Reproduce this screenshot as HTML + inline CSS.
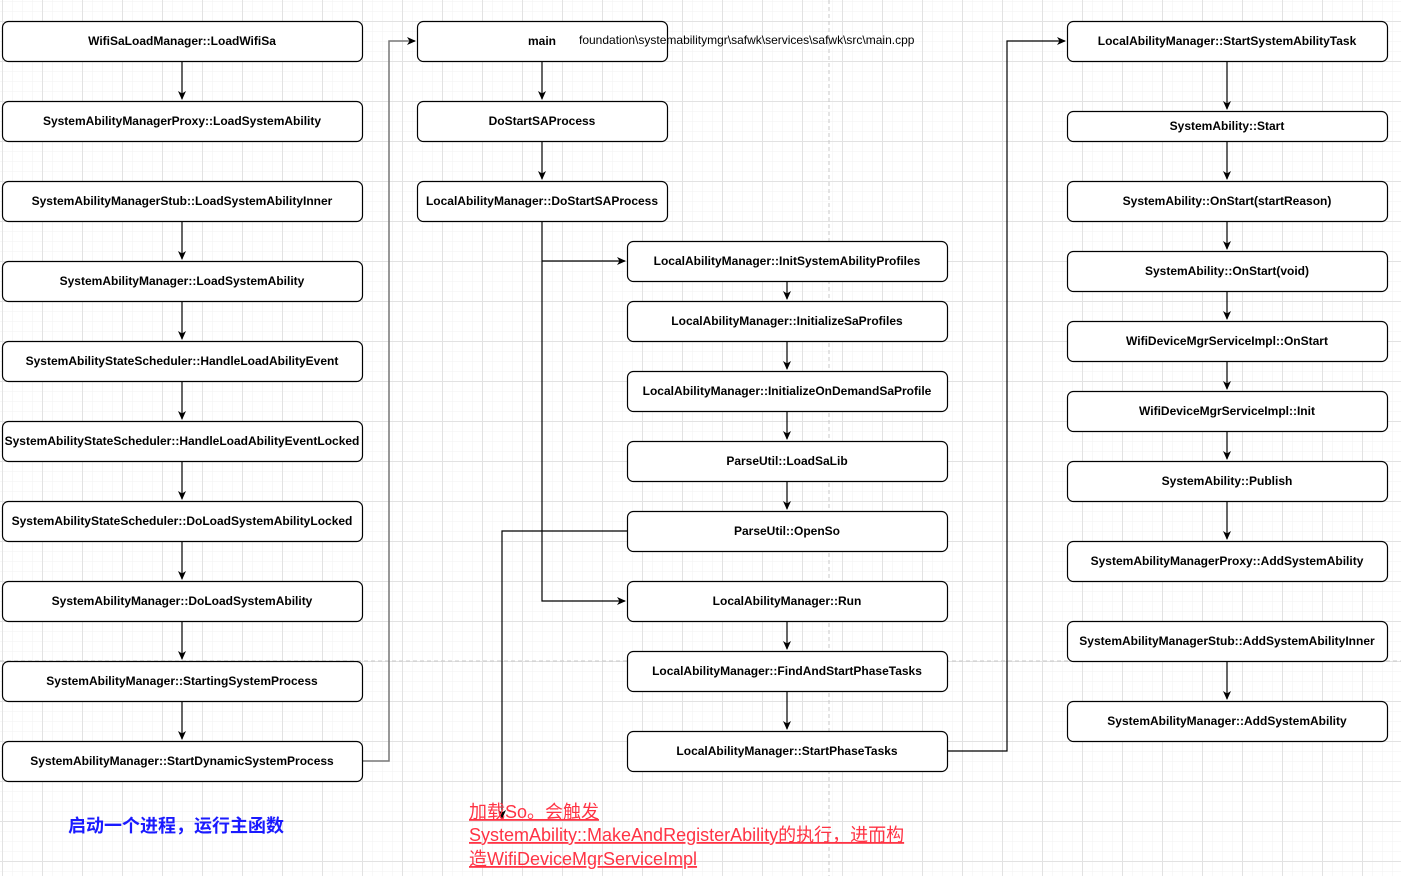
<!DOCTYPE html>
<html><head><meta charset="utf-8"><style>
html,body{margin:0;padding:0;background:#fff;}
svg{display:block;}
.b{fill:#fff;stroke:#000;stroke-width:1.2;}
.t{font-family:"Liberation Sans","Noto Sans CJK SC",sans-serif;font-size:12px;font-weight:bold;fill:#000;text-anchor:middle;dominant-baseline:central;}
.l{stroke:#000;stroke-width:1.2;fill:none;}
</style></head><body>
<svg width="1401" height="876" xmlns="http://www.w3.org/2000/svg">
<defs>
<pattern id="g1" width="10" height="10" patternUnits="userSpaceOnUse" x="2" y="1"><path d="M0 0H10M0 0V10" stroke="#f2f2f2" stroke-width="1" fill="none"/></pattern>
<pattern id="g2" width="40" height="40" patternUnits="userSpaceOnUse" x="2" y="21"><path d="M0 0.5H40M0.5 0V40" stroke="#e2e2e2" stroke-width="1" fill="none"/></pattern>
<marker id="a" markerWidth="10" markerHeight="10" refX="8" refY="4" orient="auto" markerUnits="userSpaceOnUse"><path d="M0 0L9 4L0 8L2.5 4Z" fill="#000"/></marker>
</defs>
<rect width="1401" height="876" fill="url(#g1)"/>
<rect width="1401" height="876" fill="url(#g2)"/>
<path d="M0 661H1401" stroke="#c8c8c8" stroke-dasharray="4 3"/>
<path d="M829 0V876" stroke="#c8c8c8" stroke-dasharray="4 3"/>

<!-- column 1 connectors -->
<path class="l" d="M182 61V99" marker-end="url(#a)"/>
<path class="l" d="M182 221V259" marker-end="url(#a)"/>
<path class="l" d="M182 301V339" marker-end="url(#a)"/>
<path class="l" d="M182 381V419" marker-end="url(#a)"/>
<path class="l" d="M182 461V499" marker-end="url(#a)"/>
<path class="l" d="M182 541V579" marker-end="url(#a)"/>
<path class="l" d="M182 621V659" marker-end="url(#a)"/>
<path class="l" d="M182 701V739" marker-end="url(#a)"/>
<path d="M362 761H389V41H415" stroke="#777" stroke-width="1.5" fill="none" marker-end="url(#a)"/>

<!-- column 2 -->
<path class="l" d="M542 61V99" marker-end="url(#a)"/>
<path class="l" d="M542 141V179" marker-end="url(#a)"/>
<path class="l" d="M542 221V601H625" marker-end="url(#a)"/>
<path class="l" d="M542 261H625" marker-end="url(#a)"/>

<!-- column 3 -->
<path class="l" d="M787 281V299" marker-end="url(#a)"/>
<path class="l" d="M787 341V369" marker-end="url(#a)"/>
<path class="l" d="M787 411V439" marker-end="url(#a)"/>
<path class="l" d="M787 481V509" marker-end="url(#a)"/>
<path class="l" d="M787 621V649" marker-end="url(#a)"/>
<path class="l" d="M787 691V729" marker-end="url(#a)"/>
<path class="l" d="M627 531H502V818" marker-end="url(#a)"/>
<path class="l" d="M947 751H1007V41H1065" marker-end="url(#a)"/>

<!-- column 4 -->
<path class="l" d="M1227 61V109" marker-end="url(#a)"/>
<path class="l" d="M1227 141V179" marker-end="url(#a)"/>
<path class="l" d="M1227 221V249" marker-end="url(#a)"/>
<path class="l" d="M1227 291V319" marker-end="url(#a)"/>
<path class="l" d="M1227 361V389" marker-end="url(#a)"/>
<path class="l" d="M1227 431V459" marker-end="url(#a)"/>
<path class="l" d="M1227 501V539" marker-end="url(#a)"/>
<path class="l" d="M1227 661V699" marker-end="url(#a)"/>

<!-- boxes column 1 -->
<rect class="b" x="2.5" y="21.5" width="360" height="40" rx="6"/><text class="t" x="182" y="41">WifiSaLoadManager::LoadWifiSa</text>
<rect class="b" x="2.5" y="101.5" width="360" height="40" rx="6"/><text class="t" x="182" y="121">SystemAbilityManagerProxy::LoadSystemAbility</text>
<rect class="b" x="2.5" y="181.5" width="360" height="40" rx="6"/><text class="t" x="182" y="201">SystemAbilityManagerStub::LoadSystemAbilityInner</text>
<rect class="b" x="2.5" y="261.5" width="360" height="40" rx="6"/><text class="t" x="182" y="281">SystemAbilityManager::LoadSystemAbility</text>
<rect class="b" x="2.5" y="341.5" width="360" height="40" rx="6"/><text class="t" x="182" y="361">SystemAbilityStateScheduler::HandleLoadAbilityEvent</text>
<rect class="b" x="2.5" y="421.5" width="360" height="40" rx="6"/><text class="t" x="182" y="441">SystemAbilityStateScheduler::HandleLoadAbilityEventLocked</text>
<rect class="b" x="2.5" y="501.5" width="360" height="40" rx="6"/><text class="t" x="182" y="521">SystemAbilityStateScheduler::DoLoadSystemAbilityLocked</text>
<rect class="b" x="2.5" y="581.5" width="360" height="40" rx="6"/><text class="t" x="182" y="601">SystemAbilityManager::DoLoadSystemAbility</text>
<rect class="b" x="2.5" y="661.5" width="360" height="40" rx="6"/><text class="t" x="182" y="681">SystemAbilityManager::StartingSystemProcess</text>
<rect class="b" x="2.5" y="741.5" width="360" height="40" rx="6"/><text class="t" x="182" y="761">SystemAbilityManager::StartDynamicSystemProcess</text>

<!-- column 2 -->
<rect class="b" x="417.5" y="21.5" width="250" height="40" rx="6"/><text class="t" x="542" y="41">main</text>
<text x="579" y="40" style="font-family:'Liberation Sans',sans-serif;font-size:12px;dominant-baseline:central;">foundation\systemabilitymgr\safwk\services\safwk\src\main.cpp</text>
<rect class="b" x="417.5" y="101.5" width="250" height="40" rx="6"/><text class="t" x="542" y="121">DoStartSAProcess</text>
<rect class="b" x="417.5" y="181.5" width="250" height="40" rx="6"/><text class="t" x="542" y="201">LocalAbilityManager::DoStartSAProcess</text>

<!-- column 3 -->
<rect class="b" x="627.5" y="241.5" width="320" height="40" rx="6"/><text class="t" x="787" y="261">LocalAbilityManager::InitSystemAbilityProfiles</text>
<rect class="b" x="627.5" y="301.5" width="320" height="40" rx="6"/><text class="t" x="787" y="321">LocalAbilityManager::InitializeSaProfiles</text>
<rect class="b" x="627.5" y="371.5" width="320" height="40" rx="6"/><text class="t" x="787" y="391">LocalAbilityManager::InitializeOnDemandSaProfile</text>
<rect class="b" x="627.5" y="441.5" width="320" height="40" rx="6"/><text class="t" x="787" y="461">ParseUtil::LoadSaLib</text>
<rect class="b" x="627.5" y="511.5" width="320" height="40" rx="6"/><text class="t" x="787" y="531">ParseUtil::OpenSo</text>
<rect class="b" x="627.5" y="581.5" width="320" height="40" rx="6"/><text class="t" x="787" y="601">LocalAbilityManager::Run</text>
<rect class="b" x="627.5" y="651.5" width="320" height="40" rx="6"/><text class="t" x="787" y="671">LocalAbilityManager::FindAndStartPhaseTasks</text>
<rect class="b" x="627.5" y="731.5" width="320" height="40" rx="6"/><text class="t" x="787" y="751">LocalAbilityManager::StartPhaseTasks</text>

<!-- column 4 -->
<rect class="b" x="1067.5" y="21.5" width="320" height="40" rx="6"/><text class="t" x="1227" y="41">LocalAbilityManager::StartSystemAbilityTask</text>
<rect class="b" x="1067.5" y="111.5" width="320" height="30" rx="6"/><text class="t" x="1227" y="126">SystemAbility::Start</text>
<rect class="b" x="1067.5" y="181.5" width="320" height="40" rx="6"/><text class="t" x="1227" y="201">SystemAbility::OnStart(startReason)</text>
<rect class="b" x="1067.5" y="251.5" width="320" height="40" rx="6"/><text class="t" x="1227" y="271">SystemAbility::OnStart(void)</text>
<rect class="b" x="1067.5" y="321.5" width="320" height="40" rx="6"/><text class="t" x="1227" y="341">WifiDeviceMgrServiceImpl::OnStart</text>
<rect class="b" x="1067.5" y="391.5" width="320" height="40" rx="6"/><text class="t" x="1227" y="411">WifiDeviceMgrServiceImpl::Init</text>
<rect class="b" x="1067.5" y="461.5" width="320" height="40" rx="6"/><text class="t" x="1227" y="481">SystemAbility::Publish</text>
<rect class="b" x="1067.5" y="541.5" width="320" height="40" rx="6"/><text class="t" x="1227" y="561">SystemAbilityManagerProxy::AddSystemAbility</text>
<rect class="b" x="1067.5" y="621.5" width="320" height="40" rx="6"/><text class="t" x="1227" y="641">SystemAbilityManagerStub::AddSystemAbilityInner</text>
<rect class="b" x="1067.5" y="701.5" width="320" height="40" rx="6"/><text class="t" x="1227" y="721">SystemAbilityManager::AddSystemAbility</text>

<text x="68" y="826" style="font-family:'Liberation Sans','Noto Sans CJK SC',sans-serif;font-size:18px;font-weight:bold;fill:#1a1aff;dominant-baseline:central;">启动一个进程，运行主函数</text>
<g style="font-family:'Liberation Sans','Noto Sans CJK SC',sans-serif;font-size:18px;fill:#ff3344;text-decoration:underline;">
<text x="469" y="818">加载So。会触发</text>
<text x="469" y="841">SystemAbility::MakeAndRegisterAbility的执行，进而构</text>
<text x="469" y="865">造WifiDeviceMgrServiceImpl</text>
</g>
</svg>
</body></html>
